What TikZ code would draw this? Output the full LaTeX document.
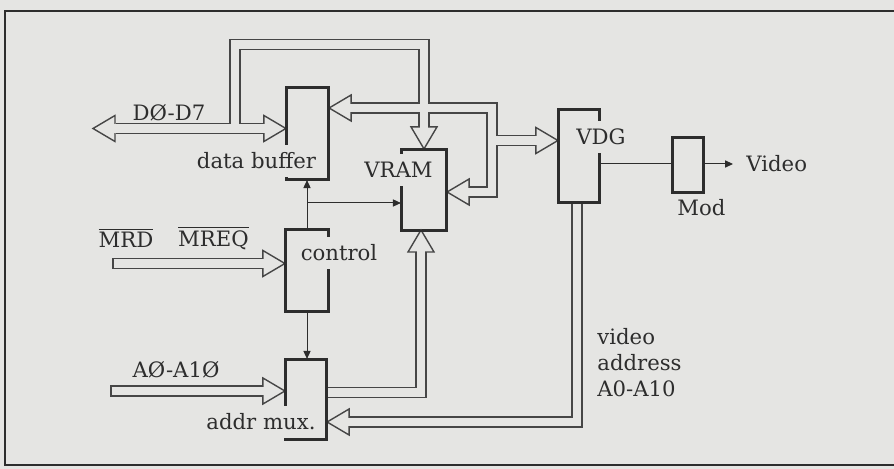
\documentclass[tikz,border=0pt]{standalone}
\usepackage{fontspec}
\setmainfont{DejaVu Serif}
\usetikzlibrary{arrows.meta,calc}
\definecolor{bg}{RGB}{229,229,227}
\definecolor{ink}{RGB}{45,45,45}
\definecolor{businkc}{RGB}{70,70,70}
\tikzset{
  busout/.style={draw=businkc,line width=5.7pt,line join=miter,line cap=butt},
  busfill/.style={draw=bg,line width=4.3pt,line join=miter,line cap=butt},
  headst/.style={draw=businkc,fill=bg,line width=0.7pt,line join=miter},
  blk/.style={draw=ink,fill=bg,line width=1.1pt,inner sep=0pt,rectangle},
  lbl/.style={font=\fontsize{10.6}{13}\selectfont,text=ink,inner sep=0pt},
  cutlbl/.style={lbl,fill=bg,inner xsep=1pt,inner ysep=4pt},
  sig/.style={draw=ink,line width=0.5pt,-{Triangle[length=4pt,width=3.6pt]}},
}
\newcommand\headR[1]{\path[headst] (#1) -- ++(-22,-13) -- ++(0,26) -- cycle;}
\newcommand\headL[1]{\path[headst] (#1) -- ++(22,-13) -- ++(0,26) -- cycle;}
\newcommand\headD[1]{\path[headst] (#1) -- ++(-13,-22) -- ++(26,0) -- cycle;}
\newcommand\headU[1]{\path[headst] (#1) -- ++(-13,22) -- ++(26,0) -- cycle;}
\begin{document}
\begin{tikzpicture}[x=0.5pt,y=-0.5pt]
\fill[bg] (0,0) rectangle (894,469);
\useasboundingbox (0,0) rectangle (894,469);
\draw[ink,line width=1.3pt] (894,11) -- (5,11) -- (5,465) -- (894,465);

% blocks
\path
  (307.5,133.5) node[blk,minimum width=20.5pt,minimum height=45.5pt] (db) {}
  (424,190)     node[blk,minimum width=22pt,minimum height=40pt] (vram) {}
  (307,270.5)   node[blk,minimum width=21pt,minimum height=40.5pt] (ctl) {}
  (306,399.5)   node[blk,minimum width=20pt,minimum height=39.5pt] (mux) {}
  (579,156)     node[blk,minimum width=20pt,minimum height=46pt] (vdg) {}
  (688,165)     node[blk,minimum width=15pt,minimum height=27pt] (mod) {};

% bus key points
\coordinate (dL) at (93,128.5);
\coordinate (dR) at (db.west |- dL);
\coordinate (dT) at (235,128.5);
\coordinate (vT) at (vram.north);
\coordinate (bL) at (db.east |- 0,108);
\coordinate (bC) at (492,108);
\coordinate (bV) at (vram.east |- 0,192);
\coordinate (bG) at (vdg.west |- 0,140.5);
\coordinate (cR) at (ctl.west |- 0,263.5);
\coordinate (aR) at (mux.west |- 0,391);
\coordinate (eS) at (mux.east |- 0,392.5);
\coordinate (eU) at (421,230);
\coordinate (fS) at (577,202);
\coordinate (fL) at (mux.east |- 0,422);

% bus outlines
\draw[busout] ($(dL)+(23,0)$) -- ($(dR)+(-22,0)$);
\draw[busout] (dT) -- (235,44.5) -- (vT |- 0,44.5) -- ($(vT)+(0,-22)$);
\draw[busout] ($(bL)+(22,0)$) -- (bC) -- (492,192) -- ($(bV)+(22,0)$);
\draw[busout] (492,140.5) -- ($(bG)+(-22,0)$);
\draw[busout] (112,263.5) -- ($(cR)+(-22,0)$);
\draw[busout] (110,391) -- ($(aR)+(-22,0)$);
\draw[busout] (eS) -- (eU |- eS) -- ($(eU)+(0,22)$);
\draw[busout] (fS) -- (fS |- fL) -- ($(fL)+(22,0)$);

% heads
\headL{dL} \headR{dR} \headD{vT} \headL{bL} \headL{bV} \headR{bG}
\headR{cR} \headR{aR} \headU{eU} \headL{fL}

% bus fills
\draw[busfill] ($(dL)+(21,0)$) -- ($(dR)+(-20,0)$);
\draw[busfill] (dT) -- (235,44.5) -- (vT |- 0,44.5) -- ($(vT)+(0,-20)$);
\draw[busfill] ($(bL)+(20,0)$) -- (bC) -- (492,192) -- ($(bV)+(20,0)$);
\draw[busfill] (492,140.5) -- ($(bG)+(-20,0)$);
\draw[busfill] (113.5,263.5) -- ($(cR)+(-20,0)$);
\draw[busfill] (111.5,391) -- ($(aR)+(-20,0)$);
\draw[busfill] (eS) -- (eU |- eS) -- ($(eU)+(0,20)$);
\draw[busfill] (fS) -- (fS |- fL) -- ($(fL)+(20,0)$);

% blocks on top
\foreach \b in {db,vram,ctl,mux,vdg,mod}
  \draw[ink,line width=1.1pt] (\b.north west) rectangle (\b.south east);

% block labels
\node[cutlbl] (tdb)  at (256.5,161) {data buffer};
\node[cutlbl] (tvr)  at (398.5,170) {VRAM};
\node[cutlbl] (tct)  at (339,253)   {control};
\node[cutlbl] (tmx)  at (261,422)   {addr mux.};
\node[cutlbl] (tvd)  at (601,137)   {VDG};
\node[lbl]    (tmd)  at (701.5,208) {Mod};

% signal labels
\node[lbl] (tdd)  at (169,113)   {DØ-D7};
\node[lbl] (tmrd) at (126,238)   {$\overline{\mbox{MRD}}$};
\node[lbl] (tmrq) at (213.5,238) {$\overline{\mbox{MREQ}}$};
\node[lbl] (tad)  at (176,370)   {AØ-A1Ø};
\node[lbl,align=left,anchor=west,font=\fontsize{10.6}{12.8}\selectfont] (tva) at (597,362.5) {video\\address\\A0-A10};

% thin control signals
\coordinate (cj) at (ctl.north |- 0,203);
\draw[sig] (ctl.north) -- (ctl.north |- db.south);
\draw[sig] (cj) -- (vram.west |- cj);
\draw[sig] (ctl.south) -- (ctl.south |- mux.north);
\draw[ink,line width=0.5pt] (vdg.east |- 0,164) -- (mod.west |- 0,164);
\coordinate (vout) at (733,164);
\draw[sig] (mod.east |- vout) -- (vout);
\node[lbl,anchor=west] (tvid) at (746,164) {Video};
\end{tikzpicture}
\end{document}
